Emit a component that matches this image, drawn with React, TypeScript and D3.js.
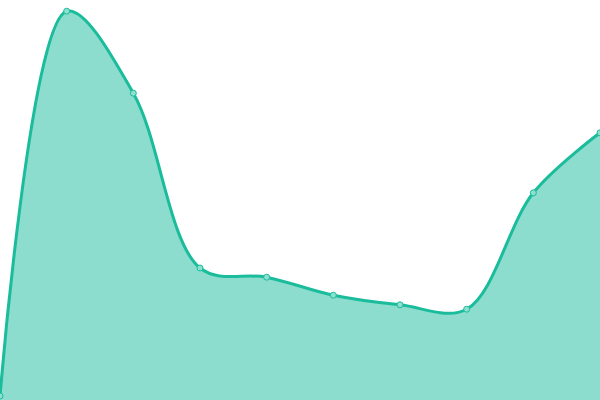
import { useEffect, useRef } from 'react';
import * as d3 from 'd3';

// point index along x (0..100 scale)
const xIndex = [0, 1, 2, 3, 4, 5, 6, 7, 8, 9];
const values = [1, 97.2, 76.7, 33, 30.7, 26.2, 23.8, 22.7, 51.8, 66.8];

const WIDTH = 600;
const HEIGHT = 400;
const LINE_COLOR = '#1abc9c';

export default function App() {
  const svgRef = useRef<SVGSVGElement>(null);

  useEffect(() => {
    if (!svgRef.current) return;
    const svg = d3.select(svgRef.current);
    svg.selectAll('*').remove();

    const x = d3.scaleLinear().domain([0, xIndex.length - 1]).range([0, WIDTH]);
    const y = d3.scaleLinear().domain([0, 100]).range([HEIGHT, 0]);

    const data = xIndex.map((i) => ({ i, v: values[i] }));
    const curve = d3.curveCatmullRom.alpha(0.5);

    const area = d3
      .area<{ i: number; v: number }>()
      .x((d) => x(d.i))
      .y0(HEIGHT)
      .y1((d) => y(d.v))
      .curve(curve);

    const line = d3
      .line<{ i: number; v: number }>()
      .x((d) => x(d.i))
      .y((d) => y(d.v))
      .curve(curve);

    svg
      .append('path')
      .datum(data)
      .attr('d', area)
      .attr('fill', LINE_COLOR)
      .attr('fill-opacity', 0.5);

    svg
      .append('path')
      .datum(data)
      .attr('d', line)
      .attr('fill', 'none')
      .attr('stroke', LINE_COLOR)
      .attr('stroke-width', 3);

    svg
      .selectAll('circle')
      .data(data)
      .enter()
      .append('circle')
      .attr('cx', (d) => x(d.i))
      .attr('cy', (d) => y(d.v))
      .attr('r', 3)
      .attr('fill', '#8de0cf')
      .attr('stroke', LINE_COLOR)
      .attr('stroke-width', 1);
  }, []);

  return (
    <svg
      ref={svgRef}
      width={WIDTH}
      height={HEIGHT}
      style={{ position: 'absolute', left: 0, top: 0, background: '#fff' }}
    />
  );
}
